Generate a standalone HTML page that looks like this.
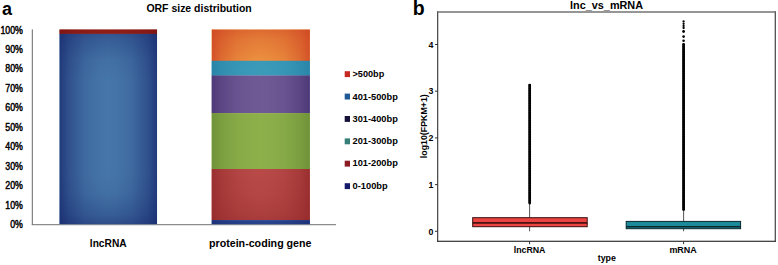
<!DOCTYPE html>
<html><head><meta charset="utf-8">
<style>
html,body{margin:0;padding:0;background:#fff;}
body{width:778px;height:265px;overflow:hidden;position:relative;font-family:"Liberation Sans",sans-serif;}
svg{position:absolute;left:0;top:0;}
text{font-family:"Liberation Sans",sans-serif;}
</style></head><body>
<svg width="778" height="265" viewBox="0 0 778 265">
<defs>
<linearGradient id="mh" x1="0" x2="1" y1="0" y2="0">
<stop offset="0" stop-color="#fff" stop-opacity="0.75"/><stop offset="0.10" stop-color="#fff" stop-opacity="0.45"/><stop offset="0.26" stop-color="#fff" stop-opacity="0.15"/><stop offset="0.41" stop-color="#fff" stop-opacity="0.03"/><stop offset="0.5" stop-color="#fff" stop-opacity="0"/><stop offset="0.59" stop-color="#fff" stop-opacity="0.03"/><stop offset="0.74" stop-color="#fff" stop-opacity="0.15"/><stop offset="0.90" stop-color="#fff" stop-opacity="0.45"/><stop offset="1" stop-color="#fff" stop-opacity="0.75"/>
</linearGradient>
<linearGradient id="mv" x1="0" x2="0" y1="0" y2="1">
<stop offset="0" stop-color="#fff" stop-opacity="0.5"/><stop offset="0.05" stop-color="#fff" stop-opacity="0.3"/><stop offset="0.155" stop-color="#fff" stop-opacity="0.08"/><stop offset="0.26" stop-color="#fff" stop-opacity="0"/><stop offset="0.74" stop-color="#fff" stop-opacity="0"/><stop offset="0.845" stop-color="#fff" stop-opacity="0.08"/><stop offset="0.95" stop-color="#fff" stop-opacity="0.3"/><stop offset="1" stop-color="#fff" stop-opacity="0.5"/>
</linearGradient>
<mask id="edge" maskUnits="objectBoundingBox" maskContentUnits="objectBoundingBox" x="0" y="0" width="1" height="1">
<rect x="0" y="0" width="1" height="1" fill="#000"/><rect x="0" y="0" width="1" height="1" fill="url(#mh)"/><rect x="0" y="0" width="1" height="1" fill="url(#mv)"/>
</mask>
</defs>
<!-- panel a -->
<text id="t_a" x="2" y="15" font-size="18" font-weight="bold" fill="#000">a</text>
<text id="t_title_a" x="146.400" y="12.300" font-size="11.2" font-weight="bold" fill="#000" textLength="105.3" lengthAdjust="spacingAndGlyphs">ORF size distribution</text>
<g id="ylab" font-size="10" fill="#000" stroke="#000" stroke-width="0.45" text-anchor="end" transform="scale(0.88,1)">
<text id="t_100" x="26" y="33.6">100%</text><text id="t_90" x="26" y="53.05">90%</text><text x="26" y="72.5">80%</text><text x="26" y="91.95">70%</text><text x="26" y="111.4">60%</text><text x="26" y="130.85">50%</text><text x="26" y="150.3">40%</text><text x="26" y="169.75">30%</text><text x="26" y="189.2">20%</text><text x="26" y="208.65">10%</text><text x="26" y="228.1">0%</text>
</g>
<rect x="31.8" y="29.4" width="1" height="195.500" fill="#666"/>
<rect x="31.8" y="224.200" width="304.2" height="1" fill="#707070"/>
<g><rect x="59.45" y="29.45" width="97.6" height="4.5" fill="#a0261c"/><rect x="59.45" y="33.85" width="97.6" height="190.4" fill="#4676aa"/></g>
<g mask="url(#edge)"><rect x="59.45" y="29.45" width="97.6" height="4.5" fill="#7a1412"/><rect x="59.45" y="33.85" width="97.6" height="190.4" fill="#16266a"/></g>
<g><rect x="211.5" y="29.45" width="98.4" height="31.6" fill="#ee9642"/><rect x="211.5" y="60.8" width="98.4" height="14.9" fill="#3c9cba"/><rect x="211.5" y="75.5" width="98.4" height="37.8" fill="#705a96"/><rect x="211.5" y="113.1" width="98.4" height="56.1" fill="#8db04b"/><rect x="211.5" y="169" width="98.4" height="51.2" fill="#b84a48"/><rect x="211.5" y="220.1" width="98.4" height="4.15" fill="#3558a8"/></g>
<g mask="url(#edge)"><rect x="211.5" y="29.45" width="98.4" height="31.6" fill="#cc3e20"/><rect x="211.5" y="60.8" width="98.4" height="14.9" fill="#247da2"/><rect x="211.5" y="75.5" width="98.4" height="37.8" fill="#432f6e"/><rect x="211.5" y="113.1" width="98.4" height="56.1" fill="#658832"/><rect x="211.5" y="169" width="98.4" height="51.2" fill="#902628"/><rect x="211.5" y="220.1" width="98.4" height="4.15" fill="#1a2c70"/></g>
<g font-size="11.5" font-weight="bold" fill="#000">
<text id="t_lnc_a" font-size="11.8" x="89.800" y="246.600" textLength="36.8" lengthAdjust="spacingAndGlyphs">lncRNA</text>
<text id="t_pcg" x="209" y="246.600" textLength="102.5" lengthAdjust="spacingAndGlyphs">protein-coding gene</text>
</g>
<g font-size="9.4" font-weight="bold" fill="#000">
<rect x="344.700" y="71.2" width="5.3" height="5.900" fill="#c42a20"/><text id="t_l1" x="352.5" y="77.100" textLength="31.8" lengthAdjust="spacingAndGlyphs">&gt;500bp</text>
<rect x="344.700" y="93.6" width="5.3" height="5.900" fill="#1f5a96"/><text id="t_l2" x="352.5" y="99.500" textLength="45.3" lengthAdjust="spacingAndGlyphs">401-500bp</text>
<rect x="344.700" y="116.0" width="5.3" height="5.900" fill="#151238"/><text x="352.5" y="121.900" textLength="45.3" lengthAdjust="spacingAndGlyphs">301-400bp</text>
<rect x="344.700" y="138.4" width="5.3" height="5.900" fill="#357f78"/><text x="352.5" y="144.200" textLength="45.3" lengthAdjust="spacingAndGlyphs">201-300bp</text>
<rect x="344.700" y="160.7" width="5.3" height="5.900" fill="#8a1c22"/><text x="352.5" y="166.100" textLength="45.3" lengthAdjust="spacingAndGlyphs">101-200bp</text>
<rect x="344.700" y="183.2" width="5.3" height="5.900" fill="#141a6a"/><text id="t_l6" x="352.5" y="188.900" textLength="35.2" lengthAdjust="spacingAndGlyphs">0-100bp</text>
</g>
<!-- panel b -->
<text id="t_b" x="412.700" y="15.100" font-size="19.5" font-weight="bold" fill="#000">b</text>
<g id="frame"><rect x="437.1" y="11.250" width="1.15" height="230.650" fill="#3a3a3a"/><rect x="774.7" y="11.250" width="1.15" height="230.650" fill="#3a3a3a"/><rect x="437.1" y="11.300" width="338.750" height="1.4" fill="#6a6a6a"/><rect x="437.1" y="240.700" width="338.750" height="1.2" fill="#333"/></g>
<text id="t_title_b" x="570.100" y="9.450" font-size="10.85" font-weight="bold" fill="#000">lnc_vs_mRNA</text>
<g font-size="8.8" font-weight="bold" fill="#000" text-anchor="end">
<text id="t_4" x="433.300" y="47.700">4</text><text x="433.300" y="94.400">3</text><text x="433.300" y="141.100">2</text><text x="433.300" y="187.800">1</text><text id="t_0" x="433.300" y="234.500">0</text>
</g>
<g fill="#333">
<rect x="435" y="44" width="2.800" height="1"/><rect x="435" y="90.700" width="2.800" height="1"/><rect x="435" y="137.400" width="2.800" height="1"/><rect x="435" y="184.100" width="2.800" height="1"/><rect x="435" y="230.800" width="2.800" height="1"/>
<rect x="529.100" y="241" width="1" height="3.200"/><rect x="683.100" y="241" width="1" height="3.200"/>
</g>
<text id="t_ylab" transform="translate(426.900,126.200) rotate(-90)" font-size="8.840" font-weight="bold" fill="#000" text-anchor="middle">log10(FPKM+1)</text>
<!-- lnc box -->
<rect x="529.100" y="203" width="1" height="28.300" fill="#555"/>
<line x1="529.700" y1="85.100" x2="529.700" y2="203.500" stroke="#000" stroke-width="2.200" stroke-linecap="round"/><line x1="529.700" y1="85.100" x2="529.700" y2="203.500" stroke="#000" stroke-width="2.900" stroke-linecap="round" stroke-dasharray="0 1.7"/>
<rect x="472.700" y="217.700" width="114.500" height="9" fill="#ec4541" stroke="#3a0e0e" stroke-width="1"/>
<rect x="472.700" y="222.100" width="114.500" height="1.600" fill="#3a0e0e"/>
<!-- mRNA box -->
<rect x="683.100" y="209" width="1" height="22.300" fill="#555"/>
<line x1="683.600" y1="44.500" x2="683.600" y2="209.500" stroke="#000" stroke-width="2.200" stroke-linecap="round"/><line x1="683.600" y1="44.500" x2="683.600" y2="209.500" stroke="#000" stroke-width="2.900" stroke-linecap="round" stroke-dasharray="0 1.7"/>
<g fill="#000"><circle cx="683.600" cy="21.500" r="1.15"/><circle cx="683.600" cy="23.800" r="1.15"/><circle cx="683.600" cy="25.900" r="1.15"/><circle cx="683.600" cy="28" r="1.15"/><circle cx="683.600" cy="31.500" r="1.4"/><circle cx="683.600" cy="36.600" r="1.3"/><circle cx="683.600" cy="40.800" r="1.3"/></g>
<rect x="626.200" y="221.400" width="114.400" height="7.3" fill="#1c8a9a" stroke="#08282e" stroke-width="1"/>
<rect x="626.200" y="226" width="114.400" height="1.500" fill="#08282e"/>
<g font-size="8.800" font-weight="bold" fill="#000">
<text id="t_lnc_b" x="513.700" y="252.700">lncRNA</text><text id="t_mrna" x="669.400" y="252.900" font-size="8.95">mRNA</text><text id="t_type" x="597.800" y="261.350">type</text>
</g>
</svg>
</body></html>
